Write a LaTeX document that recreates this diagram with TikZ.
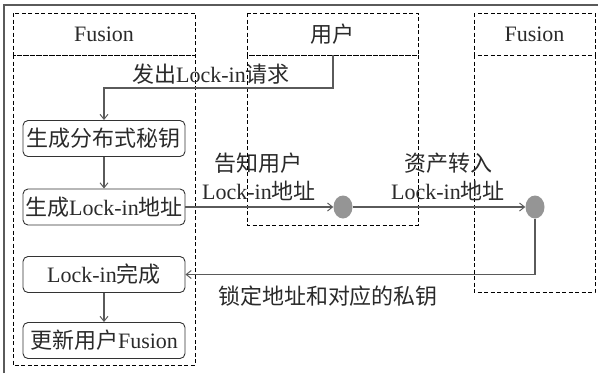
\documentclass[tikz,border=0pt]{standalone}
\usepackage{fontspec}
\setmainfont{Liberation Serif}
\newfontfamily\cjk{Noto Sans CJK SC}
\usetikzlibrary{arrows.meta,shapes.geometric}
\newcommand{\zh}[1]{{\cjk #1}}
\definecolor{lncol}{HTML}{5A5A5A}
\definecolor{dotcol}{HTML}{959595}
\definecolor{txtcol}{HTML}{2A2A2A}
\begin{document}
\begin{tikzpicture}[x=1pt,y=-1pt,
  every node/.style={font=\fontsize{22}{26}\selectfont, text=txtcol, inner sep=0pt},
  lane/.style={draw=black, dashed, dash pattern=on 4pt off 2.5pt, line width=0.9pt},
  stepbox/.style={draw=black!80, rounded corners=5pt, line width=0.9pt, minimum width=162pt, minimum height=36pt},
  dot/.style={ellipse, fill=dotcol, minimum width=19pt, minimum height=23pt},
  conn/.style={draw=lncol, line width=1.1pt, -{Straight Barb[length=5pt,width=8pt,line width=1pt]}},
  lbl/.style={align=center}
]
\useasboundingbox (0,0) rectangle (598,373);
% outer frame (top and left)
\draw[lncol, line width=1.6pt] (4,373) -- (4,5) -- (598,5);
% lanes
\draw[lane] (13,13) rectangle (195,55);
\draw[lane] (13,55) rectangle (195,365);
\draw[lane] (247,13) rectangle (418,55);
\draw[lane] (247,55) rectangle (418,225);
\draw[lane] (474,13) rectangle (595,55);
\draw[lane] (474,55) rectangle (595,292);
\node (h1) at (104,34) {Fusion};
\node (h2) at (332.5,34) {\zh{用户}};
\node (h3) at (534.5,34) {Fusion};
% steps
\node[stepbox] (s1) at (104,138.5) {\zh{生成分布式秘钥}};
\node[stepbox] (s2) at (104,207) {\zh{生成}Lock-in\zh{地址}};
\node[stepbox] (s3) at (104,274.5) {Lock-in\zh{完成}};
\node[stepbox] (s4) at (104,340.5) {\zh{更新用户}Fusion};
% dots
\node[dot] (d1) at (343,207) {};
\node[dot] (d2) at (535,207) {};
\coordinate (u) at (333,55);
% connectors
\draw[conn] (u) |- (104,88) -- (s1.north);
\draw[conn] (s1) -- (s2);
\draw[conn] (s2) -- (d1);
\draw[conn] (d1) -- (d2);
\draw[conn] (d2.south) |- (s3.east);
\draw[conn] (s3) -- (s4);
% labels
\node[lbl] (l1) at (211,74) {\zh{发出}Lock-in\zh{请求}};
\node[lbl] (l2) at (258,163) {\zh{告知用户}};
\node[lbl] (l3) at (259,191) {Lock-in\zh{地址}};
\node[lbl] (l4) at (448,163) {\zh{资产转入}};
\node[lbl] (l5) at (448,191) {Lock-in\zh{地址}};
\node[lbl] (l6) at (328,296) {\zh{锁定地址和对应的私钥}};
\end{tikzpicture}
\end{document}
